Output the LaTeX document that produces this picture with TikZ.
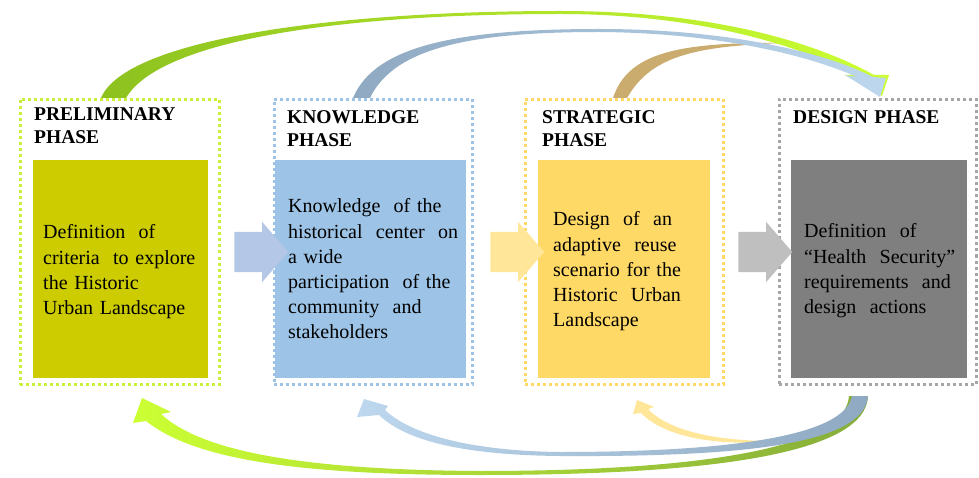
\documentclass[tikz,border=0pt]{standalone}
\usepackage{fontspec}
\setmainfont{Liberation Serif}
\usetikzlibrary{shapes.arrows}

\definecolor{prelimdot}{HTML}{C8F03A}
\definecolor{prelimfill}{HTML}{CCCC00}
\definecolor{knowfill}{HTML}{9DC3E6}
\definecolor{stratfill}{HTML}{FFD966}
\definecolor{designdot}{HTML}{A6A6A6}
\definecolor{designfill}{HTML}{7F7F7F}
\definecolor{flowblue}{HTML}{B4C7E7}
\definecolor{flowyellow}{HTML}{FFE699}
\definecolor{flowgrey}{HTML}{BFBFBF}
\definecolor{greenL}{HTML}{8DC21F}
\definecolor{greenR}{HTML}{CCFF33}
\definecolor{greenD}{HTML}{86AD3A}
\definecolor{blueA}{HTML}{8EA9C1}
\definecolor{blueB}{HTML}{BDD7EE}
\definecolor{tanarc}{HTML}{C9AC6E}
\definecolor{yellowarc}{HTML}{FFE699}

\begin{document}
\begin{tikzpicture}[x=1pt,y=-1pt,
    phase/.style={line width=3pt,dash pattern=on 3pt off 3pt,minimum height=285pt,inner sep=0pt},
    fillbox/.style={minimum height=218pt,inner sep=0pt},
    phasetitle/.style={anchor=base west,inner sep=0pt,text width=180pt,align=left,
        font=\fontsize{19.5}{23}\selectfont\bfseries},
    phasetext/.style={anchor=base west,inner sep=0pt,text width=175pt,align=left,
        font=\fontsize{20}{25.2}\selectfont},
    flow/.style={single arrow,minimum height=54pt,inner xsep=0pt,inner ysep=20pt,
        single arrow head extend=10pt,single arrow tip angle=98}]
    \useasboundingbox (0,0) rectangle (979,478);

    \node[phase,draw=prelimdot,minimum width=199pt] (prelim) at (119.5,242) {};
    \node[phase,draw=knowfill,minimum width=198pt] (know) at (373,242) {};
    \node[phase,draw=stratfill,minimum width=198pt] (strat) at (624,242) {};
    \node[phase,draw=designdot,minimum width=197pt] (design) at (877.5,242) {};

    \node[fillbox,fill=prelimfill,minimum width=175pt] (prelimbox) at (120.5,269) {};
    \node[fillbox,fill=knowfill,minimum width=191pt] (knowbox) at (370.5,269) {};
    \node[fillbox,fill=stratfill,minimum width=172pt] (stratbox) at (624,269) {};
    \node[fillbox,fill=designfill,minimum width=176pt] (designbox) at (879,269) {};

    \node[phasetitle] (prelimtitle) at (34,121) {PRELIMINARY\\PHASE};
    \node[phasetitle] (knowtitle) at (287,124) {KNOWLEDGE\\PHASE};
    \node[phasetitle] (strattitle) at (542,124) {STRATEGIC\\PHASE};
    \node[phasetitle] (designtitle) at (793,124) {DESIGN PHASE};

    \node[phasetext] (prelimtext) at (43,239)
        {Definition\ \ of\\criteria\ \ to explore\\the Historic\\Urban Landscape};
    \node[phasetext] (knowtext) at (288,213)
        {Knowledge\ \ of the\\historical\ \ center\ \ on\\a wide\\participation\ \ of the\\community\ \ and\\stakeholders};
    \node[phasetext] (strattext) at (553,226)
        {Design\ \ of\ \ an\\adaptive\ \ reuse\\scenario\ for\ the\\Historic\ \ Urban\\Landscape};
    \node[phasetext] (designtext) at (804,238)
        {Definition\ \ of\\“Health\ \ Security”\\requirements\ \ and\\design\ \ actions};

    \node[flow,fill=flowblue] (flow1) at (252.5,252) {};
    \node[flow,fill=flowyellow] (flow2) at (508.5,252) {};
    \node[flow,fill=flowgrey] (flow3) at (756.5,252) {};

    \fill[tanarc] ([xshift=-11pt]strat.north) .. controls (628,52) and (680,42) .. (785,43)
        .. controls (690,46) and (650,58) .. ([xshift=3pt]strat.north) -- cycle;
    \shade[left color=greenL,right color=greenR]
        ([xshift=-18.5pt]prelim.north) .. controls (125,40) and (330,11) .. (560,11)
        .. controls (720,11) and (820,45) .. (874,75) -- (889,75)
        -- ([xshift=4.5pt,yshift=2pt]design.north) -- (845,75) -- (856,75)
        .. controls (800,46) and (700,14) .. (560,14)
        .. controls (340,14) and (160,40) .. ([xshift=6.5pt]prelim.north) -- cycle;
    \shade[left color=blueA,right color=blueB]
        ([xshift=-20pt]know.north) .. controls (375,45) and (460,29) .. (600,29)
        .. controls (720,29) and (820,50) .. (873,77) -- (886,78)
        -- ([xshift=2.5pt,yshift=1pt]design.north) -- (845,75) -- (857,77)
        .. controls (810,56) and (720,33) .. (600,32)
        .. controls (480,32) and (395,45) .. ([xshift=-3pt]know.north) -- cycle;

    \fill[yellowarc] (785,441) .. controls (720,447) and (665,438) .. (641,413) -- (633,414)
        -- ([shift={(13,14)}]strat.south) -- (654,407) -- (648,409)
        .. controls (670,432) and (720,442) .. (785,441) -- cycle;
    \shade[left color=greenR,right color=greenD]
        ([shift={(-9.5,10)}]design.south) .. controls (866,452) and (720,475) .. (480,475)
        .. controls (300,475) and (195,460) .. (146,421) -- (133,423)
        -- ([shift={(22.5,12)}]prelim.south) -- (171,412) -- (161,414)
        .. controls (205,455) and (320,470) .. (480,471)
        .. controls (700,471) and (846,448) .. ([shift={(-28.5,10)}]design.south) -- cycle;
    \shade[left color=blueB,right color=blueA]
        ([shift={(-9.5,10)}]design.south) .. controls (864,445) and (740,457) .. (560,456)
        .. controls (460,455) and (405,440) .. (379,415) -- (357,417)
        -- ([shift={(-9,13)}]know.south) -- (388,406) -- (385,410)
        .. controls (410,434) and (470,451) .. (560,452)
        .. controls (730,452) and (845,436) .. ([shift={(-25.5,10)}]design.south) -- cycle;
\end{tikzpicture}
\end{document}
